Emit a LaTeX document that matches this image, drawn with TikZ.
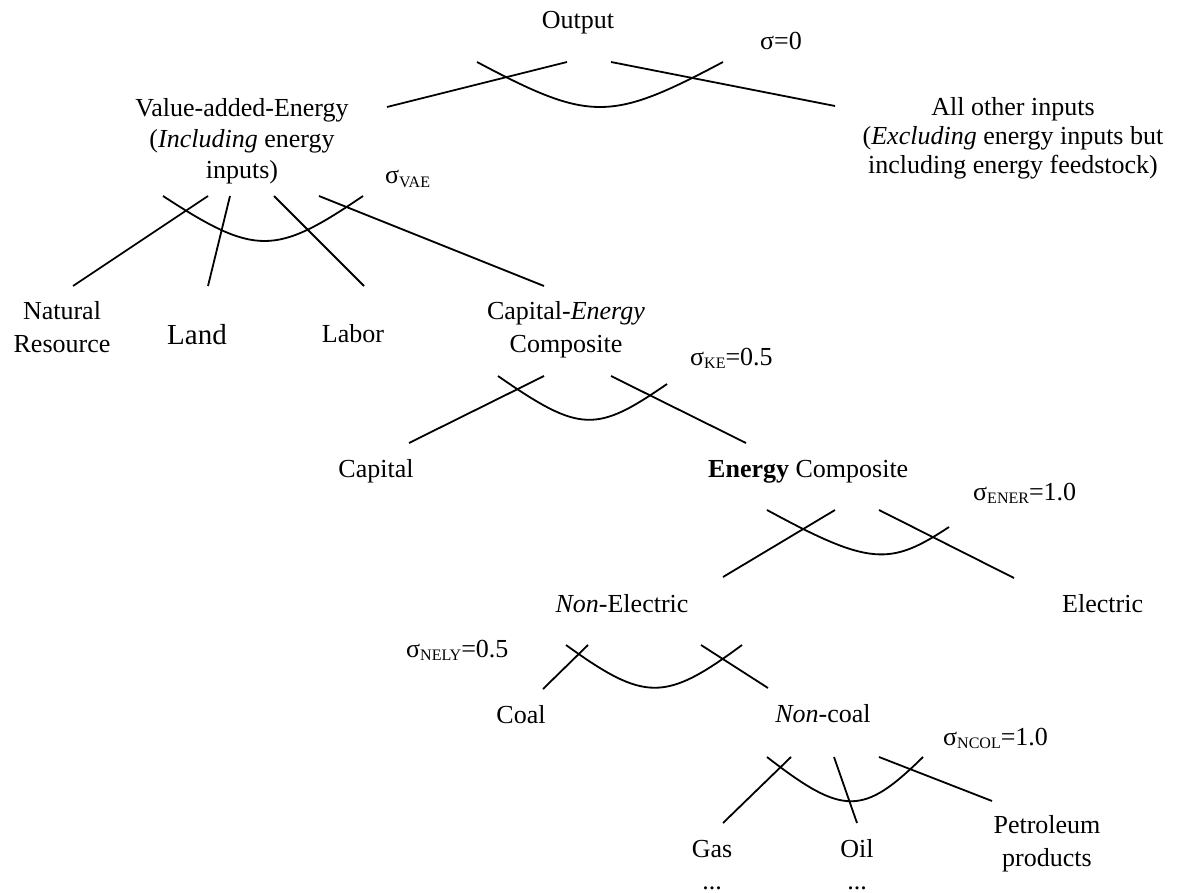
\documentclass[tikz,border=0pt]{standalone}
\usepackage{fontspec}
\setmainfont{Liberation Serif}
\newcommand{\sig}[2]{σ\raisebox{-3.5pt}{\fontsize{16}{16}\selectfont #1}#2}
\newcommand{\ml}[1]{\begin{tabular}[t]{@{}c@{}}#1\end{tabular}}
\tikzset{
  lbl/.style={inner sep=0pt, font=\fontsize{26}{31}\selectfont},
  lblw/.style={lbl, font=\fontsize{26}{33}\selectfont},
  conn/.style={line width=1.8pt, line cap=butt},
  elast/.style={line width=1.8pt},
}
\begin{document}
\begin{tikzpicture}[x=1pt,y=-1pt]
\useasboundingbox (0,0) rectangle (1182,893);

% ---- labels ----
\node[lbl,anchor=base] (out) at (578,29) {Output};
\node[lbl,anchor=base west] (s0) at (760,50) {σ=0};
\node[lbl,anchor=base] (vae) at (242,117) {\ml{Value-added-Energy\\(\textit{Including} energy\\inputs)}};
\node[lbl,anchor=base,font=\fontsize{26}{29}\selectfont] (oth) at (1013,116) {\ml{All other inputs\\(\textit{Excluding} energy inputs but\\including energy feedstock)}};
\node[lbl,anchor=base west] (svae) at (385,184) {\sig{VAE}{}};
\node[lblw,anchor=base] (nat) at (62,319) {\ml{Natural\\Resource}};
\node[lbl,anchor=base,font=\fontsize{29}{33}\selectfont] (land) at (197,344) {Land};
\node[lbl,anchor=base] (lab) at (353,342) {Labor};
\node[lblw,anchor=base] (ke) at (566,319) {\ml{Capital-\textit{Energy}\\Composite}};
\node[lbl,anchor=base west] (ske) at (690,365) {\sig{KE}{=0.5}};
\node[lbl,anchor=base] (cap) at (376,477) {Capital};
\node[lbl,anchor=base west] (ener) at (708,477) {\textbf{Energy} Composite};
\node[lbl,anchor=base west] (sener) at (973,500) {\sig{ENER}{=1.0}};
\node[lbl,anchor=base] (nel) at (622,612) {\textit{Non}-Electric};
\node[lbl,anchor=base west] (ele) at (1062,612) {Electric};
\node[lbl,anchor=base west] (snely) at (406,657) {\sig{NELY}{=0.5}};
\node[lbl,anchor=base] (coal) at (521,723) {Coal};
\node[lbl,anchor=base] (ncoal) at (823,722) {\textit{Non}-coal};
\node[lbl,anchor=base west] (sncol) at (943,745) {\sig{NCOL}{=1.0}};
\node[lbl,anchor=base] (gas) at (712,857) {Gas};
\node[lbl,anchor=base] (oil) at (857,857) {Oil};
\node[lblw,anchor=base] (pet) at (1047,833) {\ml{Petroleum\\products}};
\node[lbl,anchor=base] (gasd) at (712,889) {...};
\node[lbl,anchor=base] (oild) at (857,889) {...};

% ---- connector end points ----
\coordinate (t1a) at (567,62);  \coordinate (t1b) at (387,107);
\coordinate (t2a) at (611,62);  \coordinate (t2b) at (835,106);
\coordinate (v1a) at (208,196); \coordinate (v1b) at (73,286);
\coordinate (v2a) at (230,196); \coordinate (v2b) at (208,286);
\coordinate (v3a) at (274,196); \coordinate (v3b) at (364,286);
\coordinate (v4a) at (319,196); \coordinate (v4b) at (544,286);
\coordinate (k1a) at (544,376); \coordinate (k1b) at (409,443);
\coordinate (k2a) at (611,376); \coordinate (k2b) at (746,443);
\coordinate (e1a) at (835,510); \coordinate (e1b) at (723,577);
\coordinate (e2a) at (879,510); \coordinate (e2b) at (1014,578);
\coordinate (n1a) at (588,645); \coordinate (n1b) at (543,689);
\coordinate (n2a) at (701,645); \coordinate (n2b) at (768,688);
\coordinate (c1a) at (791,757); \coordinate (c1b) at (723,823);
\coordinate (c2a) at (834,757); \coordinate (c2b) at (857,823);
\coordinate (c3a) at (879,757); \coordinate (c3b) at (992,801);

% ---- connectors ----
\draw[conn] (t1a) -- (t1b);
\draw[conn] (t2a) -- (t2b);
\draw[conn] (v1a) -- (v1b);
\draw[conn] (v2a) -- (v2b);
\draw[conn] (v3a) -- (v3b);
\draw[conn] (v4a) -- (v4b);
\draw[conn] (k1a) -- (k1b);
\draw[conn] (k2a) -- (k2b);
\draw[conn] (e1a) -- (e1b);
\draw[conn] (e2a) -- (e2b);
\draw[conn] (n1a) -- (n1b);
\draw[conn] (n2a) -- (n2b);
\draw[conn] (c1a) -- (c1b);
\draw[conn] (c2a) -- (c2b);
\draw[conn] (c3a) -- (c3b);

% ---- elasticity arcs ----
\coordinate (at0) at (477,62);  \coordinate (at1) at (723,62);
\coordinate (av0) at (163,196); \coordinate (av1) at (363,196);
\coordinate (ak0) at (498,376); \coordinate (ak1) at (667,384);
\coordinate (ae0) at (767,510); \coordinate (ae1) at (949,527);
\coordinate (an0) at (566,645); \coordinate (an1) at (742,645);
\coordinate (ac0) at (767,757); \coordinate (ac1) at (923,757);
\draw[elast] (at0) .. controls (590,122) and (610,122) .. (at1);
\draw[elast] (av0) .. controls (255,256) and (275,256) .. (av1);
\draw[elast] (ak0) .. controls (580,433) and (596,433) .. (ak1);
\draw[elast] (ae0) .. controls (870,566) and (890,566) .. (ae1);
\draw[elast] (an0) .. controls (645,702) and (665,702) .. (an1);
\draw[elast] (ac0) .. controls (843,816) and (863,816) .. (ac1);
\end{tikzpicture}
\end{document}
